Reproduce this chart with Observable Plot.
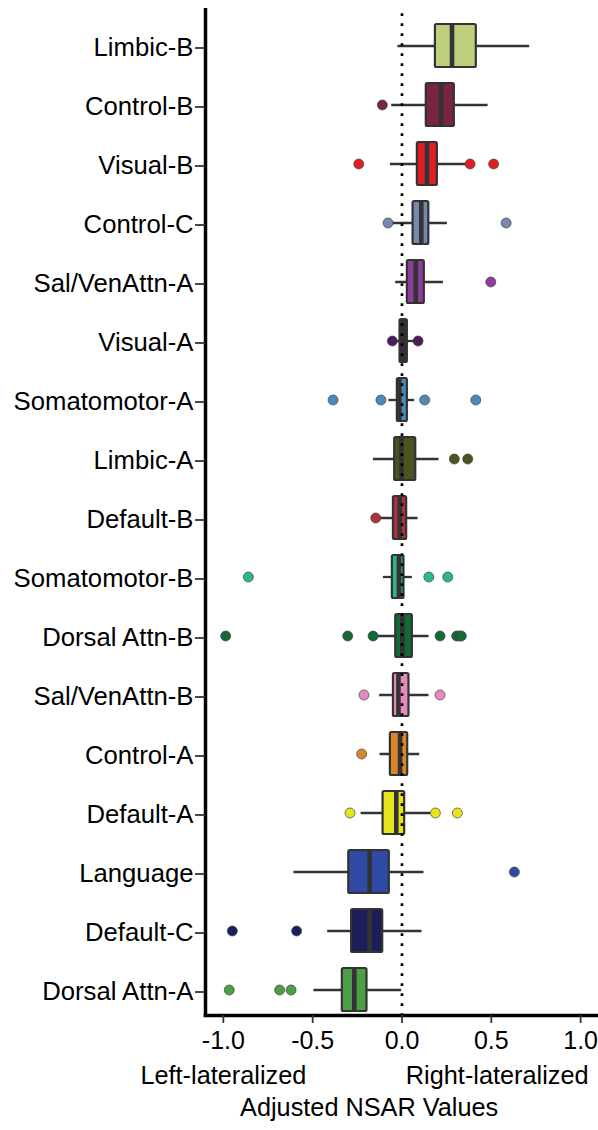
<!DOCTYPE html>
<html>
<head>
<meta charset="utf-8">
<script src="https://cdn.jsdelivr.net/npm/d3@7"></script>
<script src="https://cdn.jsdelivr.net/npm/@observablehq/plot@0.6"></script>
<style>
  html, body { margin: 0; padding: 0; background: #fff; }
  #chart svg { display: block; }
</style>
</head>
<body>
<div id="chart"></div>
<script>
// Network regions, top to bottom
const regions = ["Limbic-B", "Control-B", "Visual-B", "Control-C", "Sal/VenAttn-A", "Visual-A",
  "Somatomotor-A", "Limbic-A", "Default-B", "Somatomotor-B", "Dorsal Attn-B", "Sal/VenAttn-B",
  "Control-A", "Default-A", "Language", "Default-C", "Dorsal Attn-A"];

// Box-plot summaries of adjusted NSAR per region
const whiskerLow  = [-0.023, -0.058, -0.065, -0.058, -0.035, -0.030, -0.073, -0.160, -0.125, -0.104, -0.155, -0.125, -0.123, -0.229, -0.605, -0.416, -0.493];
const q1          = [ 0.187,  0.136,  0.086,  0.062,  0.030, -0.011, -0.026, -0.041, -0.048, -0.054, -0.035, -0.048, -0.065, -0.106, -0.298, -0.282, -0.334];
const median      = [ 0.280,  0.219,  0.140,  0.108,  0.077,  0.008, -0.015, -0.003, -0.013, -0.017,  0.002, -0.020, -0.011, -0.032, -0.181, -0.181, -0.267];
const q3          = [ 0.416,  0.293,  0.198,  0.150,  0.125,  0.030,  0.030,  0.077,  0.026,  0.011,  0.058,  0.039,  0.032,  0.015, -0.071, -0.108, -0.196];
const whiskerHigh = [ 0.715,  0.482,  0.366,  0.254,  0.232,  0.075,  0.071,  0.207,  0.090,  0.058,  0.151,  0.151,  0.099,  0.161,  0.123,  0.112, -0.002];

// Points beyond the whiskers, one list per region
const outliers = [
  [],
  [-0.110],
  [-0.242, 0.381, 0.513],
  [-0.078, 0.583],
  [0.497],
  [-0.054, 0.090],
  [-0.386, -0.118, 0.127, 0.413],
  [0.293, 0.368],
  [-0.147],
  [-0.860, 0.150, 0.256],
  [-0.987, -0.304, -0.162, 0.213, 0.306, 0.322, 0.332],
  [-0.213, 0.213],
  [-0.226],
  [-0.291, 0.187, 0.310],
  [0.629],
  [-0.950, -0.590],
  [-0.967, -0.685, -0.621]
];

// Region colours
const fills = ["#bdd07d", "#782540", "#e01e25", "#7489ac", "#8d3d9e", "#4e1a60",
  "#4a8bbd", "#4b5320", "#b1303f", "#2cb58e", "#136a34", "#e68bc0",
  "#d9862a", "#e7e41c", "#2f4aa3", "#1b1e5b", "#4c9f45"];

const xTicks = [-1, -0.5, 0, 0.5, 1];

const boxes = regions.map((region, i) => ({
  region, lo: whiskerLow[i], q1: q1[i], med: median[i], q3: q3[i], hi: whiskerHigh[i], fill: fills[i]
}));
const points = regions.flatMap((region, i) => outliers[i].map(value => ({region, value, fill: fills[i]})));

const ink = "#333333";
const font = "'Liberation Sans', Arial, Helvetica, sans-serif";

const chart = Plot.plot({
  width: 598,
  height: 1130,
  marginLeft: 205,
  marginRight: 0,
  marginTop: 8,
  marginBottom: 115,
  style: {fontFamily: font, background: "#fff", color: "#000"},
  x: {domain: [-1.1, 1.1]},
  y: {type: "band", domain: regions, range: [13.66, 1021.34], padding: 0},
  color: {type: "identity"},
  marks: [
    // whiskers
    Plot.ruleY(boxes, {y: "region", x1: "lo", x2: "hi", stroke: ink, strokeWidth: 2.3}),
    // boxes
    Plot.barX(boxes, {y: "region", x1: "q1", x2: "q3", fill: "fill", stroke: ink, strokeWidth: 2.2,
      insetTop: 8, insetBottom: 8, rx: 1.5}),
    // medians
    Plot.tickX(boxes, {y: "region", x: "med", stroke: ink, strokeWidth: 4.6, insetTop: 8, insetBottom: 8}),
    // zero reference
    Plot.ruleX([0], {stroke: "#000", strokeWidth: 2.7, strokeDasharray: "2.7,7.3", strokeDashoffset: 4.7}),
    // outliers
    Plot.dot(points, {y: "region", x: "value", r: 5, fill: "fill", stroke: "#444", strokeWidth: 0.7}),
    // axis lines
    Plot.ruleX([-1.1], {stroke: "#000", strokeWidth: 3.5, insetBottom: -1.75}),
    Plot.frame({anchor: "bottom", stroke: "#000", strokeWidth: 3.5}),
    // axes
    Plot.axisY({tickSize: 10, tickPadding: 2, fontSize: 25.7, stroke: ink, strokeWidth: 1.8, fill: "#000", dy: 2, label: null}),
    Plot.axisX({ticks: xTicks, tickFormat: d => d.toFixed(1), tickSize: 8, tickPadding: 7.5, fontSize: 25,
      stroke: ink, strokeWidth: 1.8, fill: "#000", label: null}),
    // direction notes and axis title
    Plot.text(["Left-lateralized"], {x: -1.0, frameAnchor: "bottom", dy: 68, fontSize: 25.3, fill: "#000"}),
    Plot.text(["Right-lateralized"], {x: 0.533, frameAnchor: "bottom", dy: 68, fontSize: 25.3, fill: "#000"}),
    Plot.text(["Adjusted NSAR Values"], {x: -0.184, frameAnchor: "bottom", dy: 100, fontSize: 25.3, fill: "#000"})
  ]
});

document.getElementById("chart").appendChild(chart);
</script>
</body>
</html>
